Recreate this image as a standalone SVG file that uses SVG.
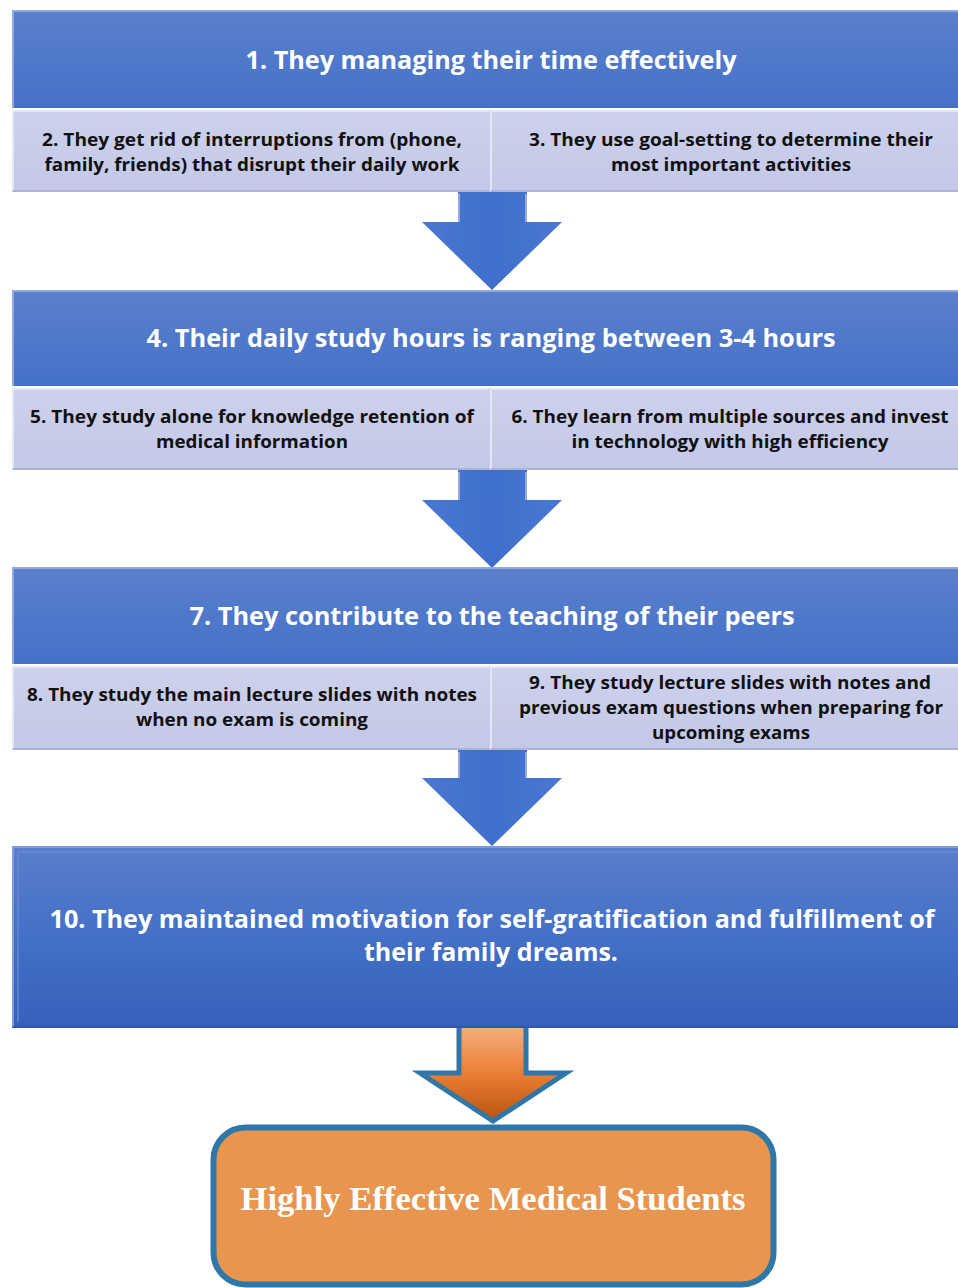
<svg xmlns="http://www.w3.org/2000/svg" width="958" height="1288" viewBox="0 0 958 1288">
<defs>
<linearGradient id="gHead" x1="0" y1="0" x2="0" y2="1">
<stop offset="0" stop-color="#5b80cc"/>
<stop offset="1" stop-color="#4571c8"/>
</linearGradient>
<linearGradient id="gBig" x1="0" y1="0" x2="0" y2="1">
<stop offset="0" stop-color="#5a7ecb"/>
<stop offset="0.5" stop-color="#4470c6"/>
<stop offset="1" stop-color="#3760bc"/>
</linearGradient>
<linearGradient id="gSub" x1="0" y1="0" x2="0" y2="1">
<stop offset="0" stop-color="#cdd1ec"/>
<stop offset="1" stop-color="#c3c8e7"/>
</linearGradient>
<linearGradient id="gArrow" x1="0" y1="0" x2="1" y2="0">
<stop offset="0" stop-color="#4a78d2"/>
<stop offset="0.5" stop-color="#3f6fcc"/>
<stop offset="1" stop-color="#4a78d2"/>
</linearGradient>
<linearGradient id="gOrange" x1="0" y1="0" x2="0" y2="1">
<stop offset="0" stop-color="#f4b183"/>
<stop offset="0.5" stop-color="#ec7f35"/>
<stop offset="1" stop-color="#b9530f"/>
</linearGradient>
</defs>
<style>
.head{font-family:"Open Sans","Noto Sans",sans-serif;font-weight:700;font-size:25px;fill:#ffffff;text-anchor:middle}
.sub{font-family:"Open Sans","Noto Sans",sans-serif;font-weight:700;font-size:18.5px;fill:#111111;text-anchor:middle}
.hl{stroke:#8eaae0;stroke-width:2;fill:none}
.sl{stroke:#e4e7f6;stroke-width:2;fill:none}
.sd{stroke:#aeb4d8;stroke-width:2;fill:none}
.arrow{fill:url(#gArrow)}
.shaftEdge{stroke:#93abe3;stroke-width:2;fill:none}
.final{font-family:"Liberation Serif","Times New Roman",serif;font-weight:700;font-size:34px;fill:#ffffff;text-anchor:middle}
</style>

<g id="connectors">
<g id="arrow1">
<polygon class="arrow" points="458,192 527,192 527,222 562,222 492,290 422,222 458,222"/>
<path class="shaftEdge" d="M459,194 V222 M526,194 V222"/>
</g>
<g id="arrow2">
<polygon class="arrow" points="458,470 527,470 527,500 562,500 492,568 422,500 458,500"/>
<path class="shaftEdge" d="M459,472 V500 M526,472 V500"/>
</g>
<g id="arrow3">
<polygon class="arrow" points="458,750 527,750 527,778 562,778 492,846 422,778 458,778"/>
<path class="shaftEdge" d="M459,752 V778 M526,752 V778"/>
</g>
<g id="arrow4">
<polygon points="459,1024 526,1024 526,1073 566,1073 493,1121 420,1073 459,1073" fill="url(#gOrange)" stroke="#2e77a8" stroke-width="5" stroke-linejoin="miter"/>
</g>
</g>

<g id="node1">
<rect x="12" y="10" width="946" height="98" fill="url(#gHead)"/>
<path class="hl" d="M13,108 V11 H958"/>
<text class="head" x="491" y="69" textLength="491" lengthAdjust="spacingAndGlyphs">1. They managing their time effectively</text>
</g>
<g id="node2">
<rect x="12" y="110" width="478" height="82" fill="url(#gSub)"/>
<path class="sl" d="M13,191 V111 H489"/>
<path class="sd" d="M13,191 H489"/>
<text class="sub" x="252" y="146" textLength="420" lengthAdjust="spacingAndGlyphs">2. They get rid of interruptions from (phone,</text>
<text class="sub" x="252" y="171" textLength="415" lengthAdjust="spacingAndGlyphs">family, friends) that disrupt their daily work</text>
</g>
<g id="node3">
<rect x="490" y="110" width="468" height="82" fill="url(#gSub)"/>
<path class="sl" d="M491,191 V111 H958"/>
<path class="sd" d="M491,191 H958"/>
<text class="sub" x="731" y="146" textLength="404" lengthAdjust="spacingAndGlyphs">3. They use goal-setting to determine their</text>
<text class="sub" x="731" y="171" textLength="240" lengthAdjust="spacingAndGlyphs">most important activities</text>
</g>

<g id="node4">
<rect x="12" y="290" width="946" height="96" fill="url(#gHead)"/>
<path class="hl" d="M13,386 V291 H958"/>
<text class="head" x="491" y="347" textLength="689" lengthAdjust="spacingAndGlyphs">4. Their daily study hours is ranging between 3-4 hours</text>
</g>
<g id="node5">
<rect x="12" y="388" width="478" height="82" fill="url(#gSub)"/>
<path class="sl" d="M13,469 V389 H489"/>
<path class="sd" d="M13,469 H489"/>
<text class="sub" x="252" y="423" textLength="444" lengthAdjust="spacingAndGlyphs">5. They study alone for knowledge retention of</text>
<text class="sub" x="252" y="448" textLength="192" lengthAdjust="spacingAndGlyphs">medical information</text>
</g>
<g id="node6">
<rect x="490" y="388" width="468" height="82" fill="url(#gSub)"/>
<path class="sl" d="M491,469 V389 H958"/>
<path class="sd" d="M491,469 H958"/>
<text class="sub" x="730" y="423" textLength="437" lengthAdjust="spacingAndGlyphs">6. They learn from multiple sources and invest</text>
<text class="sub" x="730" y="448" textLength="317" lengthAdjust="spacingAndGlyphs">in technology with high efficiency</text>
</g>

<g id="node7">
<rect x="12" y="567" width="946" height="97" fill="url(#gHead)"/>
<path class="hl" d="M13,664 V568 H958"/>
<text class="head" x="492" y="625" textLength="605" lengthAdjust="spacingAndGlyphs">7. They contribute to the teaching of their peers</text>
</g>
<g id="node8">
<rect x="12" y="666" width="478" height="84" fill="url(#gSub)"/>
<path class="sl" d="M13,749 V667 H489"/>
<path class="sd" d="M13,749 H489"/>
<text class="sub" x="252" y="701" textLength="450" lengthAdjust="spacingAndGlyphs">8. They study the main lecture slides with notes</text>
<text class="sub" x="252" y="726" textLength="232" lengthAdjust="spacingAndGlyphs">when no exam is coming</text>
</g>
<g id="node9">
<rect x="490" y="666" width="468" height="84" fill="url(#gSub)"/>
<path class="sl" d="M491,749 V667 H958"/>
<path class="sd" d="M491,749 H958"/>
<text class="sub" x="730" y="689" textLength="402" lengthAdjust="spacingAndGlyphs">9. They study lecture slides with notes and</text>
<text class="sub" x="731" y="714" textLength="424" lengthAdjust="spacingAndGlyphs">previous exam questions when preparing for</text>
<text class="sub" x="731" y="739" textLength="158" lengthAdjust="spacingAndGlyphs">upcoming exams</text>
</g>

<g id="node10">
<rect x="12" y="846" width="946" height="182" fill="url(#gBig)"/>
<path d="M13,1027 V847 H958" stroke="#7f9ddc" stroke-width="2" fill="none"/>
<path d="M18,1022 V852 H958" stroke="#6a8ed6" stroke-width="2" fill="none" opacity="0.6"/>
<path d="M13,1027 H958" stroke="#2f57ae" stroke-width="2" fill="none"/>
<text class="head" x="492" y="928" textLength="885" lengthAdjust="spacingAndGlyphs">10. They maintained motivation for self-gratification and fulfillment of</text>
<text class="head" x="491" y="961" textLength="254" lengthAdjust="spacingAndGlyphs">their family dreams.</text>
</g>

<g id="node11">
<rect x="213.5" y="1127.5" width="560" height="157" rx="32" ry="32" fill="#e8954f" stroke="#2e77a8" stroke-width="6"/>
<text class="final" x="493" y="1210" textLength="505" lengthAdjust="spacingAndGlyphs">Highly Effective Medical Students</text>
</g>
</svg>
